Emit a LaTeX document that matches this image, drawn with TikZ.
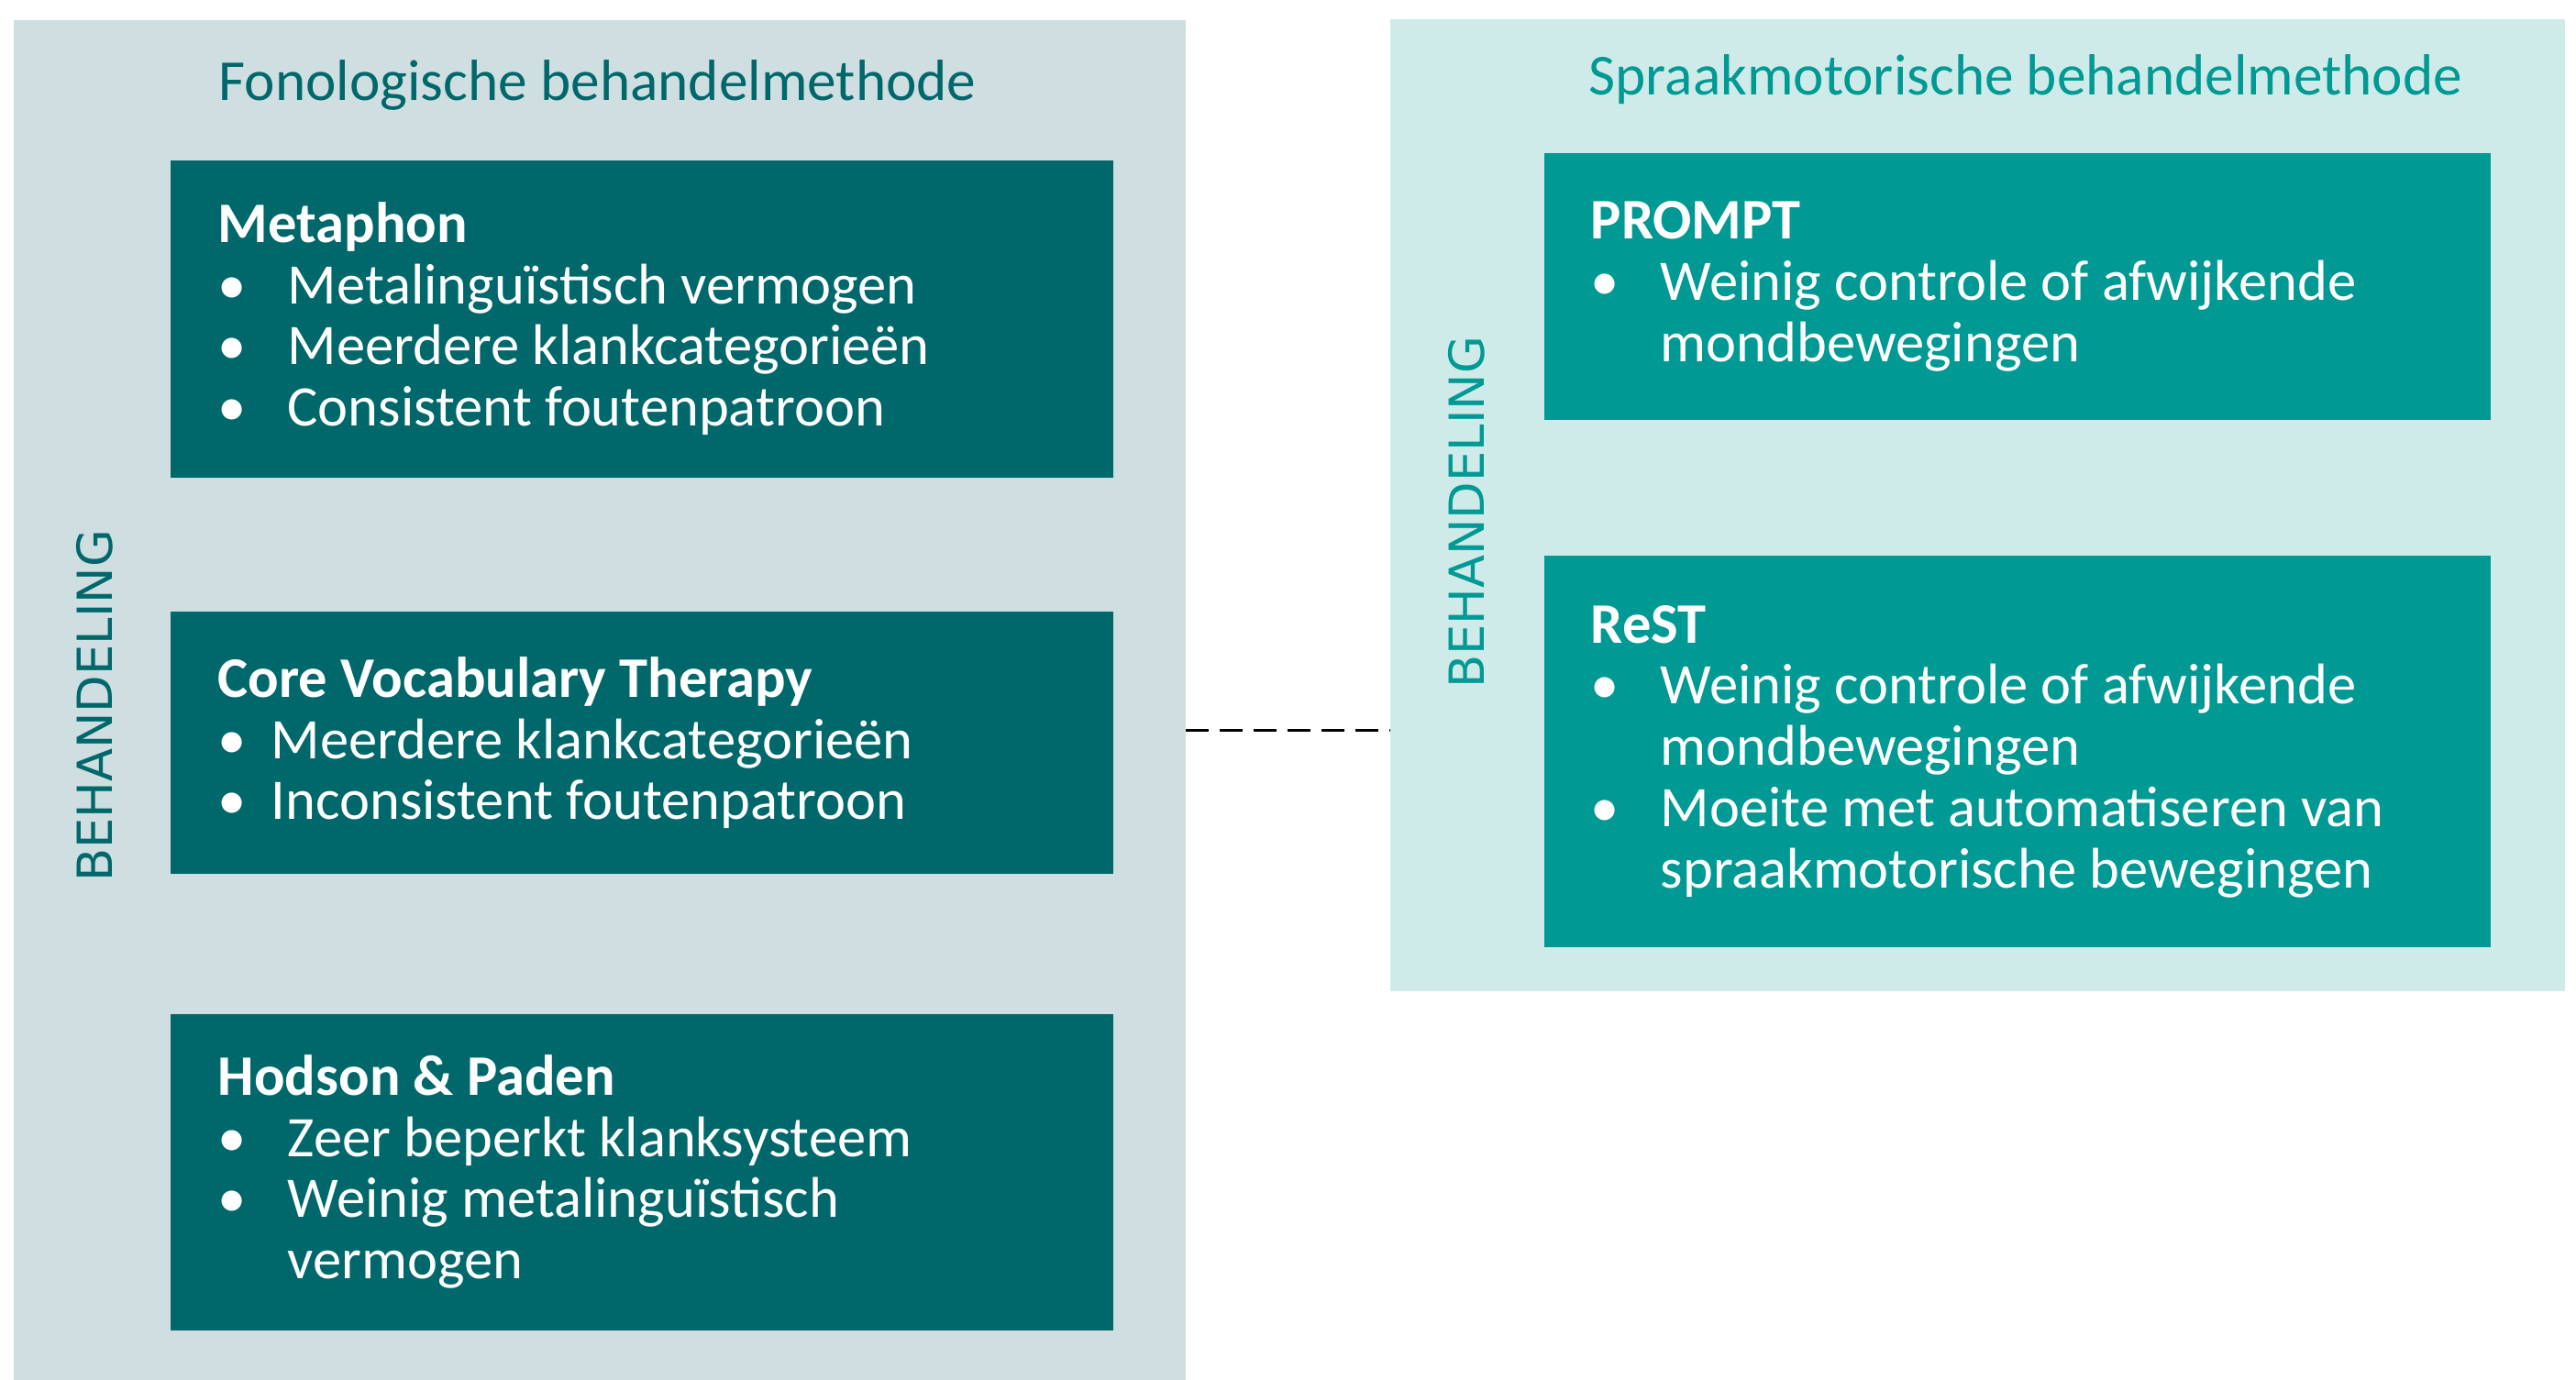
\documentclass[tikz,border=0pt]{standalone}
\usepackage{fontspec}
\setmainfont{Carlito}
\newfontfamily\capsfont{DejaVu Sans}
\usetikzlibrary{positioning}
\definecolor{fonobg}{HTML}{CFDEE1}
\definecolor{fonobox}{HTML}{00676B}
\definecolor{spraakbg}{HTML}{CFEBE9}
\definecolor{spraakbox}{HTML}{009993}
\newcommand{\bul}[2][7.6mm]{\makebox[#1][l]{\textbullet}#2}  % #1 = indent, #2 = text
\newcommand{\cont}[1]{\hspace*{7.6mm}#1}

\begin{document}
\begin{tikzpicture}[
	fonopanel/.style={fill=fonobg, anchor=north west, inner sep=0pt, minimum width=12.78cm, minimum height=14.84cm},
	spraakpanel/.style={fill=spraakbg, anchor=north west, inner sep=0pt, minimum width=12.81cm, minimum height=10.60cm},
	fonoblock/.style={fill=fonobox, text=white, anchor=north west, align=left, inner xsep=0.52cm, text width=9.24cm, minimum height=#1, execute at begin node={\spaceskip=0pt\xspaceskip=0pt}},
	spraakblock/.style={fill=spraakbox, text=white, anchor=north west, align=left, inner xsep=0.51cm, text width=9.30cm, minimum height=#1, execute at begin node={\spaceskip=0pt\xspaceskip=0pt}},
	paneltitle/.style={anchor=base west, inner sep=0pt, font=\fontsize{18}{20}\selectfont},
	vertlabel/.style={rotate=90, font=\capsfont\fontsize{15}{18}\selectfont},
	dashline/.style={dash pattern=on 7pt off 3.5pt, line width=1pt},
	font=\fontsize{17.8}{19}\selectfont
	]
	\useasboundingbox (0,0) rectangle (28.09,-15.05);

	\node[fonopanel] (fono) at (0.14,-0.21) {};
	\node[spraakpanel] (spraak) at (15.15,-0.20) {};
	\node[paneltitle, text=fonobox] (fonotitle) at (2.38,-1.10) {Fonologische behandelmethode};
	\node[paneltitle, text=spraakbox] (spraaktitle) at (17.32,-1.04) {Spraakmotorische behandelmethode};
	\node[vertlabel, text=fonobox] (fonolabel) at (1.03,-7.70) {BEHANDELING};
	\node[vertlabel, text=spraakbox] (spraaklabel) at (15.99,-5.59) {BEHANDELING};

	\node[fonoblock=3.46cm] (metaphon) at (1.85,-1.74) {\textbf{Metaphon}\\
		\bul{Metalinguïstisch vermogen}\\
		\bul{Meerdere klankcategorieën}\\
		\bul{Consistent foutenpatroon}};
	\node[fonoblock=2.86cm, below=1.45cm of metaphon] (cvt) {\textbf{Core Vocabulary Therapy}\\
		\bul[5.8mm]{Meerdere klankcategorieën}\\
		\bul[5.8mm]{Inconsistent foutenpatroon}};
	\node[fonoblock=3.45cm, below=1.51cm of cvt] (hodson) {\textbf{Hodson \& Paden}\\
		\bul{Zeer beperkt klanksysteem}\\
		\bul{Weinig metalinguïstisch}\\
		\cont{vermogen}};

	\node[spraakblock=2.91cm] (prompt) at (16.83,-1.66) {\textbf{PROMPT}\\
		\bul{Weinig controle of afwijkende}\\
		\cont{mondbewegingen}};
	\node[spraakblock=4.27cm, below=1.47cm of prompt] (rest) {\textbf{ReST}\\
		\bul{Weinig controle of afwijkende}\\
		\cont{mondbewegingen}\\
		\bul{Moeite met automatiseren van}\\
		\cont{spraakmotorische bewegingen}};

	% Connections
	\coordinate (linkstart) at ([yshift=-3.3mm]fono.east);
	\draw[dashline] (linkstart) -- (linkstart -| spraak.west);
\end{tikzpicture}
\end{document}
